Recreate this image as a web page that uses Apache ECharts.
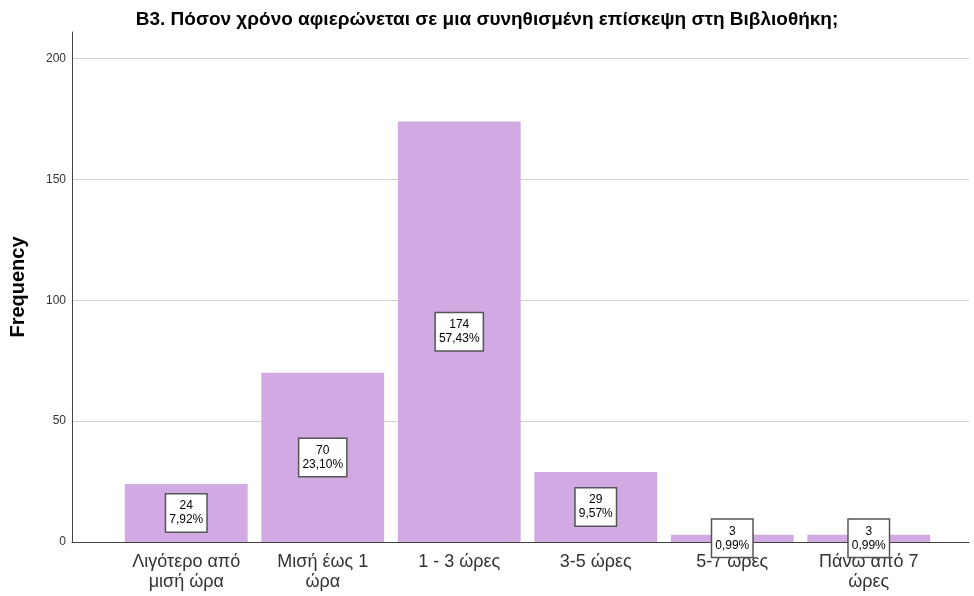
<!DOCTYPE html>
<html><head><meta charset="utf-8">
<script src="https://cdn.jsdelivr.net/npm/echarts@6/dist/echarts.min.js"></script>
<style>html,body{margin:0;padding:0;background:#fff}#c{width:974px;height:596px}</style>
</head><body><div id="c"></div>
<script>
const titleText = 'Β3. Πόσον χρόνο αφιερώνεται σε μια συνηθισμένη επίσκεψη στη Βιβλιοθήκη;';
const categories = ['Λιγότερο από\nμισή ώρα', 'Μισή έως 1\nώρα', '1 - 3 ώρες', '3-5 ώρες', '5-7 ώρες', 'Πάνω από 7\nώρες'];
const frequencies = [24, 70, 174, 29, 3, 3];
const percents = ['7,92%', '23,10%', '57,43%', '9,57%', '0,99%', '0,99%'];
const yTicks = [0, 50, 100, 150, 200];

const chart = echarts.init(document.getElementById('c'), null, {renderer: 'canvas'});
const FONT = '"Liberation Sans", Arial, sans-serif';
const gridLine = '#d3d3d3';
chart.setOption({
  animation: false,
  title: {
    text: titleText, left: 'center', top: 5,
    textStyle: {fontFamily: FONT, fontSize: 19, fontWeight: 'bold', color: '#000'}
  },
  grid: [
    {left: 72, right: 5, top: 32, bottom: 54},
    {left: 118, right: 37, top: 32, bottom: 54}
  ],
  xAxis: [
    {gridIndex: 0, type: 'value', min: 0, max: 1, axisLine: {show: true, lineStyle: {color: '#444', width: 1}},
     axisTick: {show: false}, axisLabel: {show: false}, splitLine: {show: false}},
    {gridIndex: 1, type: 'category', data: categories, axisLine: {show: false}, axisTick: {show: false},
     axisLabel: {fontFamily: FONT, fontSize: 18, color: '#333', margin: 10, lineHeight: 20, interval: 0}}
  ],
  yAxis: [
    {gridIndex: 0, type: 'value', min: 0, max: 211, interval: 50,
     name: 'Frequency', nameLocation: 'middle', nameGap: 44, nameRotate: 90,
     nameTextStyle: {fontFamily: FONT, fontSize: 20, fontWeight: 'bold', color: '#000'},
     axisLine: {show: true, lineStyle: {color: '#444', width: 1}}, axisTick: {show: false},
     axisLabel: {fontFamily: FONT, fontSize: 12, color: '#333', margin: 6, showMaxLabel: false,
       formatter: v => yTicks.includes(v) ? String(v) : ''},
     splitLine: {show: true, lineStyle: {color: [gridLine, gridLine, gridLine, gridLine, gridLine, 'rgba(0,0,0,0)'], width: 1}}},
    {gridIndex: 1, type: 'value', min: 0, max: 211, show: false, splitLine: {show: false}}
  ],
  series: [{
    type: 'bar', xAxisIndex: 1, yAxisIndex: 1,
    data: frequencies, barCategoryGap: '10%',
    itemStyle: {color: '#d1a9e3'},
    label: {
      show: true, position: 'inside',
      formatter: p => p.value + '\n' + percents[p.dataIndex],
      fontFamily: FONT, fontSize: 12, lineHeight: 14, color: '#000',
      backgroundColor: '#fff', borderColor: '#555', borderWidth: 1.5, padding: [5, 3, 4, 3]
    },
    z: 3
  }]
});
</script></body></html>
